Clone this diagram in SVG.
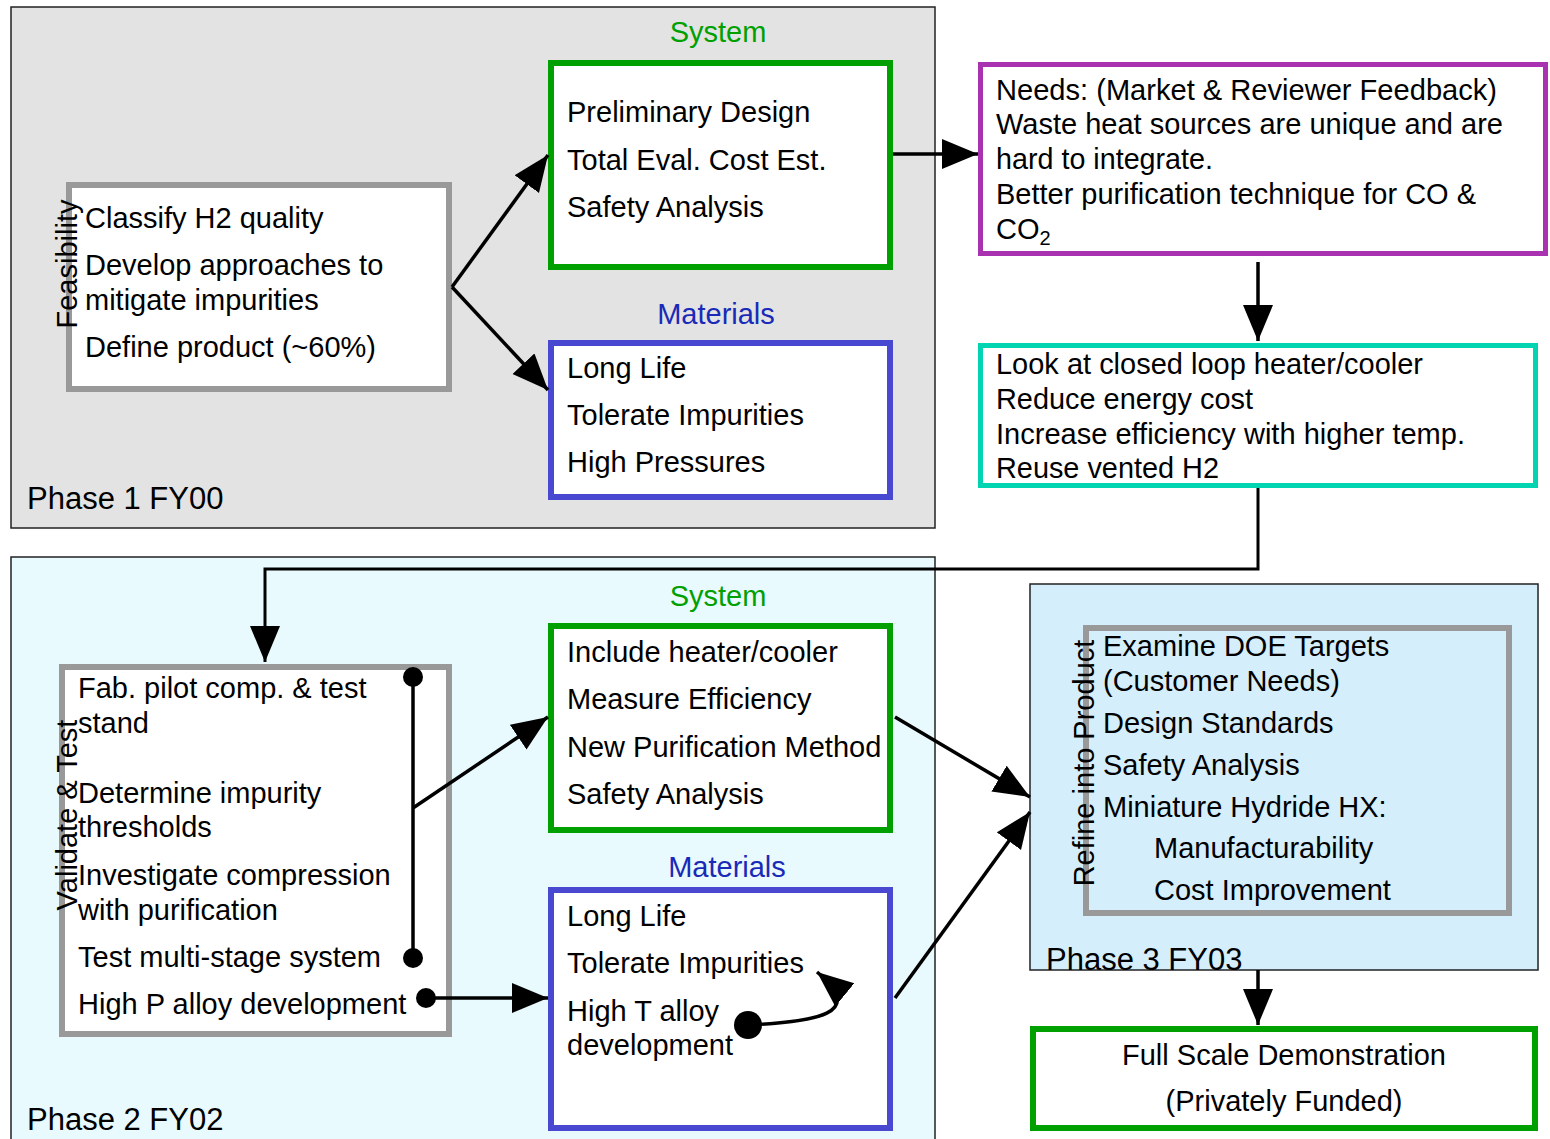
<svg xmlns="http://www.w3.org/2000/svg" width="1550" height="1139" viewBox="0 0 1550 1139">
<defs>
<marker id="ah" markerUnits="userSpaceOnUse" markerWidth="38" markerHeight="32" refX="36" refY="15" orient="auto">
<path d="M0,0 L36,15 L0,30 z" fill="#000"/>
</marker>
<style>
text{font-family:"Liberation Sans",Arial,sans-serif;font-size:29px;fill:#000}
.ph{font-size:31px}
.panel{stroke:#222;stroke-width:1.5}
.box{fill:#fff;stroke-width:6}
.gray{stroke:#999}
.green{stroke:#00a000}
.blue{stroke:#4848d0}
.glab{fill:#00a000}
.blab{fill:#1a2ab8}
.con{fill:none;stroke:#000;stroke-width:3.5}
.dot{fill:#000}
</style>
</defs>
<rect width="1550" height="1139" fill="#fff"/>

<g id="phase1">
<rect class="panel" x="11" y="7" width="924" height="521" fill="#e3e3e3"/>
<text class="ph" x="27" y="509">Phase 1 FY00</text>
</g>
<g id="phase2">
<rect class="panel" x="11" y="557" width="924" height="600" fill="#e8fafe"/>
<text class="ph" x="27" y="1130">Phase 2 FY02</text>
</g>
<g id="phase3">
<rect class="panel" x="1030" y="584" width="508" height="386" fill="#d4eefc"/>
</g>

<g id="feasibility">
<rect class="box gray" x="69" y="185" width="380" height="204"/>
<text x="85" y="228">Classify H2 quality</text>
<text x="85" y="275">Develop approaches to</text>
<text x="85" y="310">mitigate impurities</text>
<text x="85" y="357">Define product (~60%)</text>
<text transform="translate(77,264) rotate(-90)" text-anchor="middle">Feasibility</text>
</g>

<g id="system1">
<text class="glab" x="718" y="42" text-anchor="middle">System</text>
<rect class="box green" x="551" y="63" width="339" height="204"/>
<text x="567" y="122">Preliminary Design</text>
<text x="567" y="170">Total Eval. Cost Est.</text>
<text x="567" y="217">Safety Analysis</text>
</g>

<g id="materials1">
<text class="blab" x="716" y="324" text-anchor="middle">Materials</text>
<rect class="box blue" x="551" y="343" width="339" height="154"/>
<text x="567" y="378">Long Life</text>
<text x="567" y="425">Tolerate Impurities</text>
<text x="567" y="472">High Pressures</text>
</g>

<g id="needs">
<rect class="box" x="980.5" y="64.5" width="565" height="189" style="stroke:#a832b0;stroke-width:5"/>
<text x="996" y="100" textLength="501" lengthAdjust="spacingAndGlyphs">Needs: (Market &amp; Reviewer Feedback)</text>
<text x="996" y="134" textLength="507" lengthAdjust="spacingAndGlyphs">Waste heat sources are unique and are</text>
<text x="996" y="169" textLength="217" lengthAdjust="spacingAndGlyphs">hard to integrate.</text>
<text x="996" y="204" textLength="480" lengthAdjust="spacingAndGlyphs">Better purification technique for CO &amp;</text>
<text x="996" y="239">CO<tspan font-size="20" dy="6">2</tspan></text>
</g>

<g id="ideas">
<rect class="box" x="980.5" y="345.5" width="555" height="140" style="stroke:#00d4b0;stroke-width:5"/>
<text x="996" y="374" textLength="427" lengthAdjust="spacingAndGlyphs">Look at closed loop heater/cooler</text>
<text x="996" y="409" textLength="257" lengthAdjust="spacingAndGlyphs">Reduce energy cost</text>
<text x="996" y="444" textLength="469" lengthAdjust="spacingAndGlyphs">Increase efficiency with higher temp.</text>
<text x="996" y="478" textLength="223" lengthAdjust="spacingAndGlyphs">Reuse vented H2</text>
</g>

<g id="validate">
<rect class="box gray" x="62" y="667" width="387" height="367"/>
<text x="78" y="698">Fab. pilot comp. &amp; test</text>
<text x="78" y="733">stand</text>
<text x="78" y="803">Determine impurity</text>
<text x="78" y="837">thresholds</text>
<text x="78" y="885">Investigate compression</text>
<text x="78" y="920">with purification</text>
<text x="78" y="967">Test multi-stage system</text>
<text x="78" y="1014">High P alloy development</text>
<text transform="translate(77,815) rotate(-90)" text-anchor="middle">Validate &amp; Test</text>
</g>

<g id="system2">
<text class="glab" x="718" y="606" text-anchor="middle">System</text>
<rect class="box green" x="551" y="626" width="339" height="204"/>
<text x="567" y="662">Include heater/cooler</text>
<text x="567" y="709">Measure Efficiency</text>
<text x="567" y="757">New Purification Method</text>
<text x="567" y="804">Safety Analysis</text>
</g>

<g id="materials2">
<text class="blab" x="727" y="877" text-anchor="middle">Materials</text>
<rect class="box blue" x="551" y="890" width="339" height="238"/>
<text x="567" y="926">Long Life</text>
<text x="567" y="973">Tolerate Impurities</text>
<text x="567" y="1021">High T alloy</text>
<text x="567" y="1055">development</text>
</g>

<g id="refine">
<rect x="1086" y="628" width="423" height="285" fill="none" stroke="#999" stroke-width="6"/>
<text x="1103" y="656">Examine DOE Targets</text>
<text x="1103" y="691">(Customer Needs)</text>
<text x="1103" y="733">Design Standards</text>
<text x="1103" y="775">Safety Analysis</text>
<text x="1103" y="817">Miniature Hydride HX:</text>
<text x="1154" y="858">Manufacturability</text>
<text x="1154" y="900">Cost Improvement</text>
<text transform="translate(1094,763) rotate(-90)" text-anchor="middle">Refine into Product</text>
<text class="ph" x="1046" y="970">Phase 3 FY03</text>
</g>

<g id="fullscale">
<rect class="box green" x="1033" y="1029" width="502" height="99"/>
<text x="1284" y="1065" text-anchor="middle">Full Scale Demonstration</text>
<text x="1284" y="1111" text-anchor="middle">(Privately Funded)</text>
</g>

<g id="connectors">
<path class="con" d="M452,287 L548,155" marker-end="url(#ah)"/>
<path class="con" d="M452,287 L548,390" marker-end="url(#ah)"/>
<path class="con" d="M893,154 L978,154" marker-end="url(#ah)"/>
<path class="con" d="M1258,262 L1258,341" marker-end="url(#ah)"/>
<path class="con" d="M1258,488 L1258,569 L265,569 L265,662" style="stroke-width:3" marker-end="url(#ah)"/>
<path class="con" d="M413,677 L413,958"/>
<circle class="dot" cx="413" cy="677" r="10"/>
<circle class="dot" cx="413" cy="958" r="10"/>
<path class="con" d="M413,808 L548,717" marker-end="url(#ah)"/>
<circle class="dot" cx="426" cy="998" r="10"/>
<path class="con" d="M426,998 L548,998" marker-end="url(#ah)"/>
<path class="con" d="M895,717 L1030,797" marker-end="url(#ah)"/>
<path class="con" d="M895,998 L1030,812" marker-end="url(#ah)"/>
<circle class="dot" cx="748" cy="1025" r="14"/>
<path class="con" d="M748,1025 C815,1022 868,1014 817,972" marker-end="url(#ah)"/>
<path class="con" d="M1258,970 L1258,1025" marker-end="url(#ah)"/>
</g>
</svg>
